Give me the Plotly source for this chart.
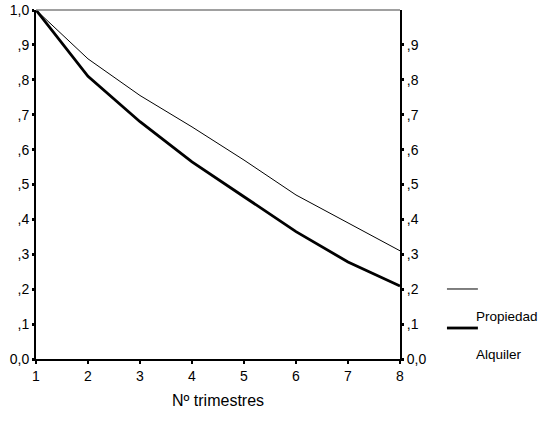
import plotly.graph_objects as go

trimestres = [1, 2, 3, 4, 5, 6, 7, 8]
propiedad = [1.0, 0.86, 0.755, 0.665, 0.57, 0.47, 0.39, 0.31]
alquiler = [1.0, 0.81, 0.68, 0.565, 0.465, 0.365, 0.278, 0.209]

left_vals = [0, .1, .2, .3, .4, .5, .6, .7, .8, .9, 1.0]
left_text = ["0,0", ",1", ",2", ",3", ",4", ",5", ",6", ",7", ",8", ",9", "1,0"]
right_vals = [0, .1, .2, .3, .4, .5, .6, .7, .8, .9]
right_text = ["0,0", ",1", ",2", ",3", ",4", ",5", ",6", ",7", ",8", ",9"]

FONT = "Liberation Sans, Arial, sans-serif"

fig = go.Figure()
fig.add_trace(go.Scatter(x=trimestres, y=propiedad, mode="lines", name="Propiedad",
                         line=dict(color="black", width=1), showlegend=False))
fig.add_trace(go.Scatter(x=trimestres, y=alquiler, mode="lines", name="Alquiler",
                         line=dict(color="black", width=2.8), showlegend=False))
fig.add_trace(go.Scatter(x=[None], y=[None], yaxis="y2", showlegend=False, hoverinfo="skip"))

fig.update_layout(
    width=546, height=432,
    margin=dict(l=36, r=146, t=10, b=73),
    paper_bgcolor="white", plot_bgcolor="white",
    font=dict(family=FONT, size=14, color="black"),
    xaxis=dict(range=[1, 8], tickvals=trimestres, ticktext=[str(t) for t in trimestres],
               showgrid=False, zeroline=False, showline=True, linecolor="black", linewidth=2,
               ticks="outside", ticklen=3, tickwidth=2, tickcolor="black", automargin=False),
    yaxis=dict(range=[0, 1], tickvals=left_vals, ticktext=left_text, automargin=False,
               showgrid=False, zeroline=False, showline=True, linecolor="black", linewidth=2,
               ticks="outside", ticklen=2, tickwidth=3, tickcolor="black"),
    yaxis2=dict(range=[0, 1], overlaying="y", side="right", tickvals=right_vals, ticktext=right_text,
                showgrid=False, zeroline=False, showline=True, linecolor="black", linewidth=2,
                ticks="outside", ticklen=2, tickwidth=3, tickcolor="black", automargin=False),
    shapes=[
        dict(type="line", xref="paper", yref="paper", x0=0, x1=1, y0=1, y1=1,
             line=dict(color="#808080", width=1.5)),
        dict(type="line", xref="paper", yref="paper", x0=1.129, x1=1.214, y0=0.2006, y1=0.2006,
             line=dict(color="black", width=1)),
        dict(type="line", xref="paper", yref="paper", x0=1.129, x1=1.214, y0=0.0888, y1=0.0888,
             line=dict(color="black", width=2.8)),
    ],
    annotations=[
        dict(text="Propiedad", xref="paper", yref="paper", x=1.204, y=0.123,
             xanchor="left", yanchor="middle", showarrow=False, font=dict(size=13.5)),
        dict(text="Alquiler", xref="paper", yref="paper", x=1.204, y=0.014,
             xanchor="left", yanchor="middle", showarrow=False, font=dict(size=13.5)),
        dict(text="Nº trimestres", xref="paper", yref="paper", x=0.5, y=0, yshift=-41,
             xanchor="center", yanchor="middle", showarrow=False, font=dict(size=16)),
    ],
)

fig.write_html("out.html", config={"displayModeBar": False},
               post_script="document.body.style.margin='0';document.body.style.overflow='hidden';")
